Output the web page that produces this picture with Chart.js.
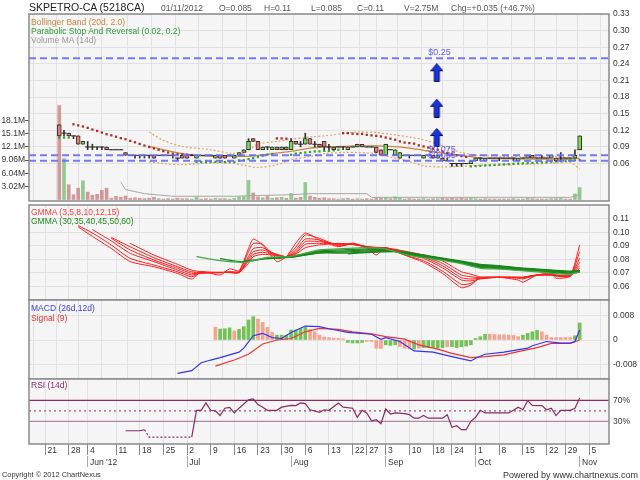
<!DOCTYPE html>
<html>
<head>
<meta charset="utf-8">
<title>SKPETRO-CA</title>
<script src="https://cdn.jsdelivr.net/npm/chart.js@4.4.1/dist/chart.umd.min.js"></script>
<style>
  body { margin: 0; width: 640px; height: 480px; background: #fff; position: relative; overflow: hidden;
         font-family: "Liberation Sans", Arial, sans-serif; }
  canvas { position: absolute; left: 0; }
  .t { position: absolute; white-space: nowrap; font-size: 8.5px; line-height: 10px; }
</style>
</head>
<body>
<canvas id="cMain" width="640" height="207" style="top:0"></canvas>
<canvas id="cGmma" width="640" height="98" style="top:204px"></canvas>
<canvas id="cMacd" width="640" height="82" style="top:299px"></canvas>
<canvas id="cRsi" width="640" height="102" style="top:378px"></canvas>

<div class="t" style="left:29px;top:1px;font-size:10.5px;line-height:12px;color:#222">SKPETRO-CA (5218CA)</div>
<div class="t" style="left:161px;top:3px;color:#555">01/11/2012</div>
<div class="t" style="left:219px;top:3px;color:#555">O=0.085</div>
<div class="t" style="left:264px;top:3px;color:#555">H=0.11</div>
<div class="t" style="left:311px;top:3px;color:#555">L=0.085</div>
<div class="t" style="left:357px;top:3px;color:#555">C=0.11</div>
<div class="t" style="left:404px;top:3px;color:#555">V=2.75M</div>
<div class="t" style="left:451px;top:3px;color:#555">Chg=+0.035 (+46.7%)</div>

<div class="t" style="left:31px;top:17px;color:#c8873a">Bollinger Band (20d, 2.0)</div>
<div class="t" style="left:31px;top:26px;color:#2e9a3a">Parabolic Stop And Reversal (0.02, 0.2)</div>
<div class="t" style="left:31px;top:35px;color:#999">Volume MA (14d)</div>
<div class="t" style="left:31px;top:207px;color:#ff4040">GMMA (3,5,8,10,12,15)</div>
<div class="t" style="left:31px;top:216px;color:#1a8a1a">GMMA (30,35,40,45,50,60)</div>
<div class="t" style="left:31px;top:303px;color:#4040e0">MACD (26d,12d)</div>
<div class="t" style="left:31px;top:313px;color:#f03030">Signal (9)</div>
<div class="t" style="left:31px;top:380px;color:#8c2a64">RSI (14d)</div>
<div class="t" style="left:2px;top:470px;font-size:7.4px;color:#333">Copyright © 2012 ChartNexus</div>
<div class="t" style="right:2px;top:470px;font-size:9px;color:#333">Powered by www.chartnexus.com</div>

<script>
// x values are trading-day numbers: 0 = Mon 21 May 2012, 113 = Thu 1 Nov 2012
const X_MIN = -3.4, X_MAX = 119.2;

const weekIdx = [0,5,9,15,20,25,30,35,40,45,50,55,60,65,68,72,77,82,86,91,96,101,106,110,115];
const weekLabels = ['21','28','4','11','18','25','2','9','16','23','30','6','13','22','27','3','10','18','24','1','8','15','22','29','5'];
const monthIdx = [9,30,52,72,91,113];
const monthLabels = ["Jun '12",'Jul','Aug','Sep','Oct','Nov'];

// ---- prices, one entry per day from day 3 (24 May)
const firstDay = 3;
const opens = [.13,.115,.115,.11,.11,.095,.09,.09,.09,.09,
  .09,.085,.085,.085,.08,.075,.075,.075,.075,.075,
  .075,.075,.075,.075,.075,.07,.075,.075,.075,.07,
  .075,.075,.075,.07,.075,.075,.075,.07,.075,.08,
  .085,.105,.10,.085,.09,.085,.09,.085,.09,.085,
  .10,.095,.095,.105,.095,.095,.10,.09,.09,.09,
  .09,.085,.09,.09,.095,.09,.09,.09,.085,.075,
  .085,.075,.07,.075,.075,.075,.075,.07,.075,.075,
  .07,.07,.065,.06,.06,.06,.06,.06,.065,.07,
  .065,.07,.07,.07,.07,.07,.07,.065,.07,.07,
  .075,.07,.07,.07,.07,.07,.07,.07,.07,.07,
  .085];
const highs = [.13,.12,.115,.11,.11,.10,.10,.095,.09,.09,
  .09,.085,.085,.085,.08,.075,.075,.075,.075,.075,
  .075,.075,.075,.075,.075,.07,.075,.075,.075,.075,
  .075,.075,.075,.075,.075,.075,.075,.075,.08,.085,
  .105,.105,.10,.09,.09,.09,.09,.09,.09,.105,
  .10,.10,.115,.105,.10,.095,.10,.095,.09,.09,
  .09,.09,.09,.095,.095,.09,.09,.09,.085,.095,
  .085,.085,.08,.075,.075,.075,.075,.075,.075,.075,
  .075,.07,.07,.06,.06,.06,.06,.065,.07,.07,
  .07,.07,.07,.07,.07,.07,.07,.07,.07,.075,
  .075,.07,.075,.07,.075,.07,.08,.07,.07,.085,
  .11];
const lows = [.11,.11,.11,.105,.095,.095,.085,.085,.085,.085,
  .085,.085,.085,.085,.075,.075,.07,.07,.07,.07,
  .07,.075,.075,.075,.07,.065,.07,.07,.075,.07,
  .075,.075,.075,.07,.07,.07,.075,.07,.075,.08,
  .085,.10,.085,.085,.085,.085,.085,.085,.085,.085,
  .095,.09,.095,.095,.09,.09,.085,.085,.085,.09,
  .085,.085,.09,.09,.09,.09,.09,.08,.075,.075,
  .085,.075,.07,.075,.07,.075,.075,.07,.075,.07,
  .07,.065,.065,.055,.055,.055,.06,.06,.065,.065,
  .065,.07,.07,.065,.07,.07,.065,.065,.07,.07,
  .07,.07,.07,.07,.07,.065,.065,.07,.07,.07,
  .085];
const closes = [.11,.115,.11,.11,.095,.10,.09,.09,.09,.09,
  .085,.085,.085,.085,.075,.075,.075,.075,.075,.075,
  .07,.075,.075,.075,.075,.07,.07,.07,.075,.075,
  .075,.075,.075,.075,.07,.07,.075,.075,.08,.085,
  .10,.10,.085,.09,.09,.09,.085,.09,.085,.10,
  .095,.095,.105,.095,.095,.09,.09,.09,.085,.09,
  .09,.09,.09,.095,.09,.09,.09,.08,.075,.095,
  .085,.085,.08,.075,.075,.075,.075,.075,.075,.07,
  .075,.065,.065,.06,.06,.06,.06,.065,.07,.07,
  .07,.07,.07,.07,.07,.07,.07,.07,.07,.075,
  .07,.07,.07,.07,.075,.065,.07,.07,.07,.075,
  .11];
// volume in millions
const volumes = [21.6,9.4,3.4,1.1,2.6,4.3,1.7,1.0,1.2,2.1,
  2.6,0.3,0.7,0.5,0.8,0.3,0.4,0.3,0.2,0.3,
  0.5,0.2,0.1,0.2,0.1,0.3,0.2,0.2,0.1,0.5,
  0.1,0.2,0.1,0.3,0.2,0.2,0.1,0.3,0.6,0.7,
  4.4,1.5,0.6,0.4,0.7,0.3,0.4,0.5,0.3,1.4,
  0.3,0.5,3.9,0.8,0.5,0.3,0.4,0.2,0.2,0.1,
  0.2,0.3,0.1,0.2,0.1,0.2,0.1,0.3,0.4,0.5,
  0.2,0.6,0.4,0.1,0.2,0.1,0.1,0.2,0.1,0.2,
  0.2,0.3,0.2,0.4,0.2,0.3,0.2,0.3,0.2,0.1,
  0.2,0.1,0.1,0.1,0.1,0.1,0.2,0.1,0.1,0.3,
  0.2,0.1,0.1,0.1,0.2,0.2,0.3,0.1,0.1,1.3,
  2.75];
// parabolic SAR, same days
const sar = [.107,.107,.107,.131,.129,.127,.1245,.1215,.119,.116,
  .113,.111,.1085,.106,.104,.101,.0985,.0955,.0925,.09,
  .0875,.085,.0825,.08,.078,.077,.0765,.076,.0755,.063,
  .063,.063,.0632,.0632,.0632,.0627,.063,.0632,.0656,.066,
  .068,.0697,.072,.0744,.0762,.0775,.1055,.1055,.105,.076,
  .078,.079,.08,.081,.082,.082,.083,.083,.084,.085,
  .115,.115,.114,.1135,.1135,.112,.111,.11,.109,.107,
  .105,.103,.1,.098,.097,.096,.093,.091,.089,.087,
  .085,.082,.079,.0765,.075,.0735,.072,.055,.0555,.056,
  .0565,.057,.0575,.058,.0585,.059,.0595,.06,.0605,.061,
  .0615,.062,.0625,.063,.0635,.064,.0645,.065,.0655,.066,
  .0665];

const bbIdx    = [22,25,29,35,39,42,45,49,52,56,59,63,66,70,73,77,80,84,88,92,97,103,108,111,113];
const bbUpper  = [.117,.102,.091,.085,.079,.079,.095,.100,.104,.108,.110,.114,.117,.116,.113,.108,.103,.092,.080,.075,.073,.0715,.073,.073,.09];
const bbMiddle = [.091,.085,.078,.073,.073,.073,.075,.079,.082,.088,.090,.091,.092,.092,.091,.088,.084,.079,.075,.070,.069,.068,.068,.068,.070];
const bbLower  = [.063,.060,.058,.061,.061,.057,.053,.058,.067,.073,.078,.080,.080,.078,.072,.064,.056,.054,.055,.057,.058,.059,.061,.062,.050];

const vmaIdx = [16,17,21,27,40,44,52,56,58,68,69,111,113];
const vmaVal = [4.0,2.3,1.35,0.75,0.75,0.9,1.1,1.35,1.35,1.35,0.5,0.5,1.1];

const levels = [0.25, 0.075, 0.065];
const levelTexts = ['$0.25', '$0.075', '$0.065'];
const arrowIdx = [82.8, 82.8, 82.8];
const arrowPrice = [0.224, 0.160, 0.107];

const priceTicks = [.06,.09,.12,.15,.18,.21,.24,.27,.30,.33];
const volTicks = [3.02,6.04,9.06,12.08,15.1,18.12];

// ---- GMMA
const gsIdx = [7,10,14,18,23,28,31,33,37,39,41,43,44,46,49,51,53,55,58,62,65,68,70,72,76,80,84,88,90,92,96,100,101,104,107,108,111,113];
const gmma3  = [.104,.097,.088,.0783,.0745,.0696,.0654,.0708,.0684,.073,.0715,.088,.095,.0906,.0783,.082,.092,.0995,.0943,.0893,.092,.0886,.0832,.0886,.0832,.0778,.0696,.059,.061,.0664,.0667,.0647,.063,.0684,.0696,.066,.0676,.0906];
const gmma5  = [.105,.0995,.0906,.0807,.0758,.0708,.0671,.0703,.070,.071,.071,.0856,.0918,.091,.0807,.082,.089,.098,.0955,.090,.0915,.089,.0856,.088,.0832,.079,.0713,.0615,.0622,.066,.0667,.066,.0655,.0684,.069,.0675,.0676,.0856];
const gmma8  = [null,.102,.0936,.0844,.0783,.072,.0684,.0698,.0702,.0705,.0705,.082,.088,.0886,.0832,.082,.087,.095,.0943,.0906,.091,.089,.0876,.088,.0844,.0807,.0737,.0647,.064,.0655,.0667,.0665,.0662,.0684,.0688,.068,.0676,.0807];
const gmma10 = [null,null,.0955,.0869,.0795,.0733,.0696,.0698,.0703,.0703,.0703,.0802,.0856,.0869,.0837,.082,.0855,.0931,.0931,.0912,.091,.0893,.0881,.0883,.0851,.0817,.0753,.0664,.0654,.066,.0667,.0667,.0666,.0684,.0685,.0682,.0676,.0778];
const gmma12 = [null,null,.0962,.0893,.0812,.0745,.0708,.070,.0703,.0702,.0702,.0788,.0837,.0852,.0832,.082,.0845,.0911,.0918,.0915,.091,.0893,.0886,.0884,.0856,.0824,.077,.0684,.0671,.0664,.0667,.0667,.0667,.0684,.0684,.0683,.0678,.0753];
const gmma15 = [null,null,null,.0918,.0832,.0763,.072,.0708,.0704,.0703,.0702,.077,.082,.0837,.0828,.082,.0838,.0886,.0906,.0918,.0912,.0895,.0889,.0885,.0861,.0832,.0788,.0708,.069,.067,.0668,.0667,.0667,.0684,.0683,.0683,.068,.0733];
const glIdx  = [32,37,42,47,52,58,64,68,72,76,80,84,88,92,96,100,104,108,111,113];
const gmma30 = [.082,.079,.0778,.0815,.0822,.0869,.0881,.0886,.0876,.0837,.0812,.0793,.0768,.0733,.0728,.0718,.0708,.0694,.069,.0705];
const gmma35 = [null,.0805,.0782,.081,.082,.0862,.0872,.0878,.0872,.0842,.0818,.0797,.0772,.074,.0733,.0722,.0712,.07,.0695,.0707];
const gmma40 = [null,null,.0788,.0805,.0818,.0856,.0862,.087,.0868,.0846,.0822,.08,.0776,.0746,.0738,.0727,.0717,.0705,.07,.071];
const gmma45 = [null,null,null,.0808,.0816,.085,.0855,.0862,.0864,.085,.0826,.0803,.078,.0752,.0743,.0731,.0721,.071,.0705,.0713];
const gmma50 = [null,null,null,null,.0815,.0846,.0846,.0855,.086,.0853,.0829,.0806,.0783,.0758,.0748,.0735,.0725,.0714,.0709,.0716];
const gmma60 = [null,null,null,null,null,null,.084,.085,.0856,.0855,.0832,.0808,.0786,.0763,.0753,.0738,.0728,.0718,.0713,.0718];
const gmmaTicks = [.06,.07,.08,.09,.10,.11];

// ---- MACD
const macdIdx = [28,31,33,35,37,39,41,42,44,46,48,50,52,55,58,60,64,69,71,72,75,78,82,86,90,91,93,97,102,103,106,109,111,112,113];
const macdVal = [-.011,-.0101,-.0075,-.0066,-.0058,-.0049,-.004,-.0027,.0014,.0022,.0008,.0005,.0025,.0046,.0044,.0037,.0025,.0019,.0002,.0008,-.0005,-.0036,-.004,-.0055,-.0069,-.006,-.0047,-.004,-.0027,-.0019,-.0005,-.001,-.001,-.0005,.0033];
const signalIdx = [36,40,43,46,49,52,55,58,62,65,69,72,76,79,83,86,90,93,97,100,104,107,111,113];
const signalVal = [-.0086,-.0066,-.0047,-.0013,0,.0005,.0027,.0038,.0035,.0027,.002,.0011,.0003,-.0016,-.003,-.0044,-.0058,-.0055,-.0049,-.0038,-.0025,-.0011,-.0011,0];
const histFirst = 36;
const histVal = [.0042,.0036,.0037,.0040,.0030,.0035,.0044,.0066,.0077,.0069,
  .0058,.0042,.0025,.0016,.0016,.0016,.0033,.0033,.0038,.0043,
  .0035,.0027,.0016,.0010,.0008,.0006,.0005,.0004,-.0008,-.0010,
  -.0010,-.0008,-.0005,-.0005,-.0027,-.0028,-.0016,-.0018,-.0016,-.0022,
  -.0027,-.0030,-.0030,-.0027,-.0025,-.0025,-.0025,-.0027,-.0025,-.0022,
  -.0022,-.0025,-.0022,-.0020,-.0016,.0005,.0011,.0019,.0019,.0018,
  .0017,.0017,.0016,.0015,.0011,.0016,.0022,.0027,.0032,.0027,
  .0016,.0008,.0008,.0008,.0008,.0008,.0014,.0056];
const histRising = [0,1,1,1,0,1,1,1,1,0, 0,0,0,1,1,1,1,1,1,1, 0,0,0,0,0,0,0,0,1,1,
  1,1,0,0,0,0,1,1,1,0, 0,0,1,0,1,1,1,1,1,0, 1,1,1,1,1,1,1,1,0,0,
  0,0,0,0,0,1,1,1,1,0, 0,0,0,0,0,0,1,1];
const macdTicks = [-.008, 0, .008];

// ---- RSI
const rsiIdx = [17,20,21,22,31,32,33,34,35,36,37,38,39,40,41,43,44,45,46,47,49,50,52,53,54,55,56,58,59,60,62,63,65,66,67,68,69,70,71,72,73,74,76,77,78,79,80,81,84,85,86,87,88,89,90,91,92,93,98,99,100,101,102,103,105,106,107,108,109,111,112,113];
const rsiVal = [12,12,14,0,0,51,51,65,51,50,41,55,56.7,46,55,71,72.5,62,57,51,51,57,60.5,60,65,63.6,52,47,52,51,65,57,55,37.6,51,46,31,33,25.6,53.5,44,46,44.6,42.7,36,36,41,36,36,42.7,18.6,21.7,14,14,30,37.6,51,46,46,51,57,52,69.4,60.5,60,52,55,41,51,51,55,74.5];
const RSI_DASH_FROM = 21, RSI_DASH_TO = 31;
const rsiLevels = [70, 50, 30];
const rsiTicks = [30, 70];

// --------------------------------------------------------------
Chart.defaults.font.family = '"Liberation Sans", Arial, sans-serif';
Chart.defaults.font.size = 8.5;
Chart.defaults.color = '#333';
Chart.defaults.animation = false;
Chart.defaults.events = [];
Chart.defaults.plugins.legend.display = false;
Chart.defaults.plugins.tooltip.enabled = false;

const GRID = '#e1e1e1';
const pts = (xs, ys) => xs.map((x, k) => ({ x: x, y: ys[k] }));
const dayPts = (first, ys) => ys.map((y, k) => ({ x: first + k, y: y }));
const hline = v => [{ x: X_MIN, y: v }, { x: X_MAX, y: v }];

// grey panel background + frame
const framePlugin = {
  id: 'frame',
  beforeDraw(chart) {
    const a = chart.chartArea, c = chart.ctx;
    c.save();
    c.fillStyle = '#f5f5f5';
    c.fillRect(a.left, a.top, a.right - a.left, a.bottom - a.top);
    c.restore();
  },
  afterDraw(chart) {
    const a = chart.chartArea, c = chart.ctx;
    c.save();
    c.strokeStyle = '#8a8a8a';
    c.lineWidth = 1.5;
    c.strokeRect(a.left, a.top, a.right - a.left, a.bottom - a.top);
    c.restore();
  }
};

function fixBox(w, h) {
  return s => {
    if (w !== null) s.width = w;
    if (h !== null) s.height = h;
    s.paddingTop = 0; s.paddingBottom = 0; s.paddingLeft = 0; s.paddingRight = 0;
  };
}

function weekAxis() {
  return {
    type: 'linear', min: X_MIN, max: X_MAX, bounds: 'data', offset: false,
    afterBuildTicks: s => { s.ticks = weekIdx.map(v => ({ value: v })); },
    ticks: { display: false },
    grid: { color: GRID, drawTicks: false },
    border: { display: false },
    afterFit: fixBox(null, 0)
  };
}

function rightAxis(min, max, tickVals, fmt, gridOn) {
  return {
    type: 'linear', position: 'right', min: min, max: max, bounds: 'data',
    afterBuildTicks: s => { s.ticks = tickVals.map(v => ({ value: v })); },
    ticks: { padding: 4, callback: v => fmt(v) },
    grid: { display: gridOn, color: GRID, drawTicks: false },
    border: { display: false },
    afterFit: fixBox(31, null)
  };
}

function makeChart(id, pad, scales, datasets, extra) {
  return new Chart(document.getElementById(id), {
    type: 'scatter',
    data: { datasets: datasets },
    options: {
      responsive: false,
      maintainAspectRatio: false,
      layout: { padding: pad },
      scales: scales
    },
    plugins: [framePlugin].concat(extra || [])
  });
}

// blue up arrow used as point style
function makeArrow() {
  const c = document.createElement('canvas');
  c.width = 13; c.height = 19;
  const g = c.getContext('2d');
  g.beginPath();
  g.moveTo(6.5, 0.5); g.lineTo(12.5, 7.5); g.lineTo(9, 7.5); g.lineTo(9, 18.5);
  g.lineTo(4, 18.5); g.lineTo(4, 7.5); g.lineTo(0.5, 7.5); g.closePath();
  g.fillStyle = '#1434e6'; g.fill();
  g.strokeStyle = '#0a0a50'; g.lineWidth = 1; g.stroke();
  return c;
}

const LEVEL_TEXT_AT = 81;
const levelTextPlugin = {
  id: 'levelText',
  afterDatasetsDraw(chart) {
    const ctx = chart.ctx, x = chart.scales.x, y = chart.scales.y;
    ctx.save();
    ctx.font = '9px "Liberation Sans", Arial, sans-serif';
    ctx.fillStyle = 'rgba(80,80,235,0.9)';
    ctx.textBaseline = 'bottom';
    levels.forEach((lv, k) => ctx.fillText(levelTexts[k], x.getPixelForValue(LEVEL_TEXT_AT), y.getPixelForValue(lv) - 1));
    ctx.restore();
  }
};

// ---- main price panel
const wickData = highs.map((h, k) => ({ x: firstDay + k, y: [lows[k], h] }));
const bodyData = [];
const dojiData = [];
opens.forEach((o, k) => {
  if (o === closes[k]) dojiData.push({ x: firstDay + k, y: o });
  else bodyData.push({ x: firstDay + k, y: [o, closes[k]] });
});
const isUp = k => k !== undefined && (closes[k] > opens[k] || (closes[k] === opens[k] && k > 0 && closes[k] > closes[k - 1]));

makeChart('cMain', { top: 14, bottom: 2, left: 0, right: 0 }, {
  x: weekAxis(),
  y: rightAxis(-0.0075, 0.33, priceTicks, v => v.toFixed(2), true),
  yVol: {
    type: 'linear', position: 'left', min: -0.34, max: 42.65, bounds: 'data',
    afterBuildTicks: s => { s.ticks = volTicks.map(v => ({ value: v })); },
    ticks: { padding: 0, callback: v => v.toPrecision(3) + 'M' },
    grid: { drawOnChartArea: false, drawTicks: true, tickLength: 4, tickColor: '#555' },
    border: { display: false },
    afterFit: fixBox(29, null)
  }
}, [
  { type: 'bar', data: dayPts(firstDay, volumes), yAxisID: 'yVol', barThickness: 3, grouped: false,
    backgroundColor: c => isUp(c.dataIndex) ? 'rgba(120,190,120,0.8)' : 'rgba(200,130,130,0.8)', order: 10 },
  { type: 'line', data: pts(vmaIdx, vmaVal), yAxisID: 'yVol', borderColor: '#a3ab9f', borderWidth: 1, pointRadius: 0, order: 9 },
  { type: 'line', data: pts(bbIdx, bbUpper), borderColor: '#e2a45e', borderWidth: 1.2, borderDash: [2, 2], pointRadius: 0, tension: 0.3, order: 8 },
  { type: 'line', data: pts(bbIdx, bbMiddle), borderColor: '#c98840', borderWidth: 1.3, pointRadius: 0, tension: 0.3, order: 8 },
  { type: 'line', data: pts(bbIdx, bbLower), borderColor: '#e2a45e', borderWidth: 1.2, borderDash: [2, 2], pointRadius: 0, tension: 0.3, order: 8 },
  { type: 'scatter', data: dayPts(firstDay, sar), pointStyle: 'rect', pointRadius: 1.6, borderWidth: 0,
    backgroundColor: c => (c.dataIndex !== undefined && sar[c.dataIndex] > closes[c.dataIndex]) ? '#b02828' : '#2fa52f', order: 6 },
  { type: 'bar', data: wickData, barThickness: 1, grouped: false, backgroundColor: '#333', order: 5 },
  { type: 'bar', data: bodyData, barThickness: 4, grouped: false, borderSkipped: false,
    backgroundColor: c => (c.raw && c.raw.y[1] > c.raw.y[0]) ? '#78dc50' : '#f07676',
    borderColor: '#333', borderWidth: 1, order: 4 },
  { type: 'scatter', data: dojiData, pointStyle: 'line', pointRadius: 2.5, borderColor: '#222', borderWidth: 1, order: 3 }
].concat(levels.map(lv => ({
  type: 'line', data: hline(lv), borderColor: 'rgba(105,105,250,0.9)', borderWidth: 2, borderDash: [7, 4], pointRadius: 0, order: 1
}))).concat([
  { type: 'scatter', data: pts(arrowIdx, arrowPrice), pointStyle: makeArrow(), pointRadius: 5, clip: false, order: 0 }
]), [levelTextPlugin]);

// ---- GMMA panel
const shortLines = [gmma3, gmma5, gmma8, gmma10, gmma12, gmma15];
const longLines = [gmma30, gmma35, gmma40, gmma45, gmma50, gmma60];
makeChart('cGmma', { top: 1, bottom: 2, left: 29, right: 0 }, {
  x: weekAxis(),
  y: rightAxis(0.0499, 0.1202, gmmaTicks, v => v.toFixed(2), true)
}, shortLines.map(l => ({
  type: 'line', data: pts(gsIdx, l), borderColor: '#ff1c1c', borderWidth: 1, pointRadius: 0, tension: 0.2, order: 2
})).concat(longLines.map((l, k) => ({
  type: 'line', data: pts(glIdx, l), borderColor: k ? '#1e861e' : '#45a845', borderWidth: 1.3, pointRadius: 0, tension: 0.2, order: 1
}))));

// ---- MACD panel
makeChart('cMacd', { top: 1, bottom: 2, left: 29, right: 0 }, {
  x: weekAxis(),
  y: rightAxis(-0.01284, 0.01317, macdTicks, v => v === 0 ? '0' : v.toFixed(3), true)
}, [
  { type: 'bar', data: dayPts(histFirst, histVal), barThickness: 3, grouped: false,
    backgroundColor: c => histRising[c.dataIndex] ? '#74c257' : '#f4a491', order: 3 },
  { type: 'line', data: pts(signalIdx, signalVal), borderColor: '#f03434', borderWidth: 1.2, pointRadius: 0, order: 2 },
  { type: 'line', data: pts(macdIdx, macdVal), borderColor: '#3434f0', borderWidth: 1.2, pointRadius: 0, order: 1 }
]);

// ---- RSI panel with the date axis
const rsiLevelColors = ['#8e2c5e', '#a0507e', '#b08aa2'];
makeChart('cRsi', { top: 1, bottom: 0, left: 29, right: 0 }, {
  x: {
    type: 'linear', min: X_MIN, max: X_MAX, bounds: 'data', offset: false, position: 'bottom', weight: 0,
    afterBuildTicks: s => { s.ticks = weekIdx.map(v => ({ value: v })); },
    ticks: { autoSkip: false, maxRotation: 0, minRotation: 0, align: 'start', padding: -9,
             callback: (v, i) => ' ' + weekLabels[i] },
    grid: { color: GRID, tickColor: '#8a8a8a', tickLength: 11 },
    border: { display: false },
    afterFit: fixBox(null, 12)
  },
  x2: {
    type: 'linear', axis: 'x', min: X_MIN, max: X_MAX, bounds: 'data', offset: false, position: 'bottom', weight: 1,
    afterBuildTicks: s => { s.ticks = monthIdx.map(v => ({ value: v })); },
    ticks: { autoSkip: false, maxRotation: 0, minRotation: 0, align: 'start', padding: -9,
             callback: (v, i) => ' ' + monthLabels[i] },
    grid: { drawOnChartArea: false, tickColor: '#a8a8a8', tickLength: 11 },
    border: { display: false },
    afterFit: fixBox(null, 24)
  },
  y: rightAxis(-13.2, 110.6, rsiTicks, v => v + '%', false)
}, rsiLevels.map((lv, k) => ({
  type: 'line', data: hline(lv), borderColor: rsiLevelColors[k], borderWidth: 1.2,
  borderDash: lv === 50 ? [2, 3] : [], pointRadius: 0, order: 2
})).concat([
  { type: 'line', data: pts(rsiIdx, rsiVal), borderColor: '#8c2a64', borderWidth: 1.2, pointRadius: 0, order: 1,
    segment: { borderDash: s => (s.p0.parsed.x >= RSI_DASH_FROM && s.p1.parsed.x <= RSI_DASH_TO) ? [2, 2] : undefined } }
]));
</script>
</body>
</html>
